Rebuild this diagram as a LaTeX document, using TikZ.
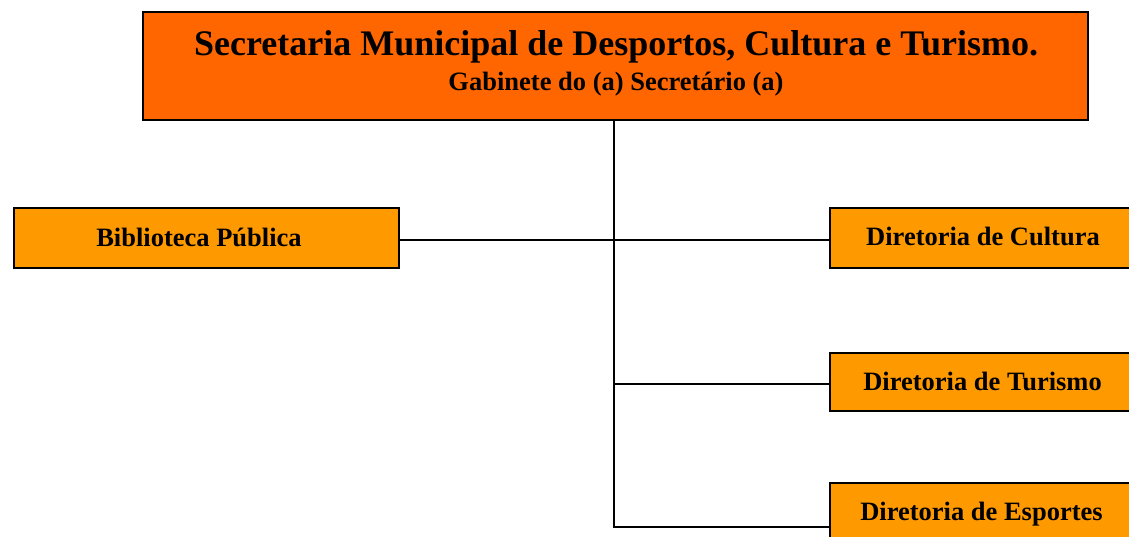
\documentclass[tikz,border=0pt]{standalone}
\usepackage{fontspec}
\setmainfont{Liberation Serif}
\definecolor{topor}{HTML}{FF6600}
\definecolor{subor}{HTML}{FF9900}
\begin{document}
\begin{tikzpicture}[x=1pt,y=-1pt,
  topbox/.style={draw=black,line width=1.6pt,fill=topor},
  unitbox/.style={draw=black,line width=1.6pt,fill=subor},
  lbl/.style={font=\bfseries\fontsize{26.5}{30}\selectfont,inner sep=0pt,anchor=base},
  conn/.style={draw=black,line width=1.3pt}]
\useasboundingbox (0,0) rectangle (1129,536);
\clip (0,0) rectangle (1129,536);
\fill[white] (0,0) rectangle (1129,536);
% boxes
\path[topbox] (143,12) rectangle (1088,120);
\node[inner sep=0pt,anchor=base,font=\bfseries\fontsize{36}{40}\selectfont] (t1) at (616,55) {Secretaria Municipal de Desportos, Cultura e Turismo.};
\node[inner sep=0pt,anchor=base,font=\bfseries\fontsize{26.5}{30}\selectfont] (t2) at (616,90) {Gabinete do (a) Secretário (a)};
\coordinate (topb) at (614,120);
\path[unitbox] (14,208) rectangle (399,268);
\node[lbl] (bib) at (199,246) {Biblioteca Pública};
\coordinate (bibr) at (399,240);
\path[unitbox] (830,208) rectangle (1160,268);
\node[lbl] (cul) at (983,245) {Diretoria de Cultura};
\coordinate (cull) at (830,240);
\path[unitbox] (830,353) rectangle (1160,411);
\node[lbl] (tur) at (982.5,390.5) {Diretoria de Turismo};
\coordinate (turl) at (830,384);
\path[unitbox] (830,483) rectangle (1160,560);
\node[lbl] (esp) at (981.5,520) {Diretoria de Esportes};
\coordinate (espl) at (830,527);
% connectors
\coordinate (j1) at (614,240);
\coordinate (j2) at (614,384);
\coordinate (j3) at (614,527);
\draw[conn] (topb) -- (j3) -- (espl);
\draw[conn] (bibr) -- (cull);
\draw[conn] (j2) -- (turl);
\end{tikzpicture}
\end{document}
